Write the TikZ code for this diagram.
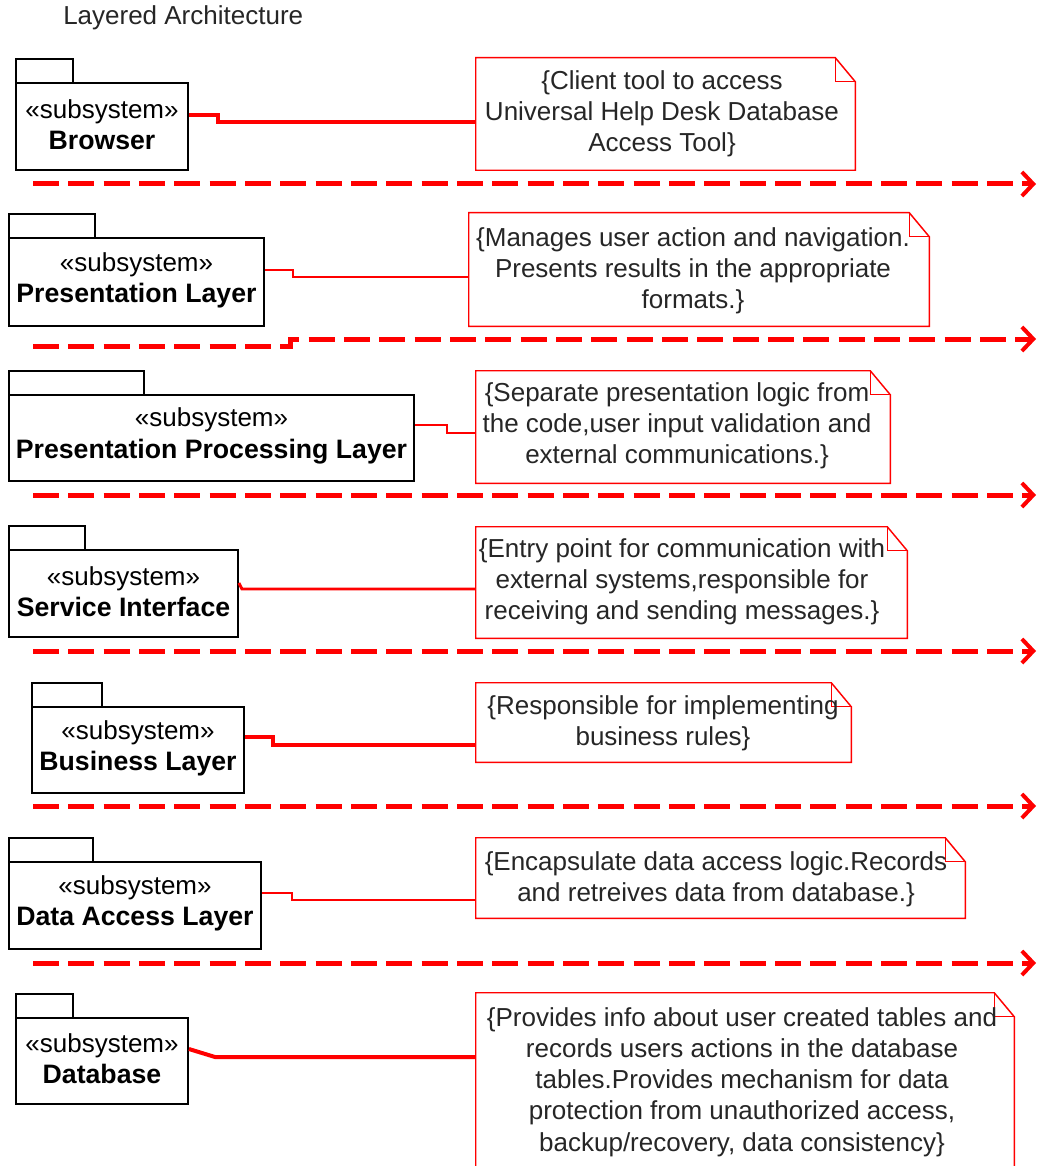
\documentclass[tikz,border=0pt]{standalone}
\usepackage{fontspec}
\setmainfont{Liberation Sans}
\usetikzlibrary{arrows.meta,fit}
\begin{document}
\begin{tikzpicture}[x=0.75pt,y=-0.75pt,
  every node/.style={font=\fontsize{19.5pt}{23.4pt}\selectfont},
  pkg/.style={draw=black,line width=1.4pt,inner sep=0pt,align=center,text=black},
  tabstyle/.style={draw=black,line width=1.4pt},
  notebox/.style={inner sep=0pt,align=center,text=black!85},
  noteline/.style={draw=red,line width=1.1pt},
  conn/.style={draw=red,line width=2.2pt},
  connthick/.style={draw=red,line width=3pt},
  sep/.style={draw=red,line width=3.75pt,dash pattern=on 19.5pt off 7pt,
    -{Straight Barb[length=8.5pt,width=18pt,line width=3pt]}}
]
\clip (0,0) rectangle (1037,1166);
\fill[white] (0,0) rectangle (1037,1166);

\node[anchor=west,inner sep=0pt,text=black!85] (title) at (63,18) {Layered Architecture};

% packages
\newcommand{\pkgnode}[7]{% name, x1,y1,x2,y2, tabx2, label
  \draw[tabstyle] (#2,#3) -- (#2,{#3-24}) -- (#6,{#3-24}) -- (#6,#3);
  \node[pkg,fit={(#2,#3) (#4,#5)}] (#1) {};
  \node[align=center,inner sep=0pt] (#1t) at ([yshift=1.5pt]#1.center) {«subsystem»\\\textbf{\fontsize{20pt}{23.4pt}\selectfont #7}};
}
\pkgnode{pk1}{16}{83}{188}{170}{73}{Browser}
\pkgnode{pk2}{9}{238}{264}{326}{95}{Presentation Layer}
\pkgnode{pk3}{9}{395}{414}{481}{144}{Presentation Processing Layer}
\pkgnode{pk4}{9}{550}{238}{637}{85}{Service Interface}
\pkgnode{pk5}{32}{707}{244}{793}{102}{Business Layer}
\pkgnode{pk6}{9}{862}{261}{949}{93}{Data Access Layer}
\pkgnode{pk7}{16}{1018}{188}{1104}{73}{Database}

% notes
\newcommand{\notenode}[5]{% name, x1,y1,x2,y2
  \node[notebox,fit={(#2,#3) (#4,#5)}] (#1) {};
  \draw[noteline] (#1.north west) -- ([xshift=-15pt]#1.north east) -- ([yshift=-18pt]#1.north east) -- (#1.south east) -- (#1.south west) -- cycle;
  \draw[noteline] ([xshift=-15pt]#1.north east) -- ([xshift=-15pt,yshift=-18pt]#1.north east) -- ([yshift=-18pt]#1.north east);
}
\tikzset{notetext/.style={align=center,inner sep=0pt,text=black!85}}
\notenode{nt1}{476}{58}{855}{170}
\node[notetext] (nt1t) at (662,114) {\{Client tool to access\\Universal Help Desk Database\\Access Tool\}};
\notenode{nt2}{469}{213}{929}{326}
\node[notetext] (nt2t) at (693,271) {\{Manages user action and navigation.\\Presents results in the appropriate\\formats.\}};
\notenode{nt3}{476}{371}{890}{483}
\node[notetext] (nt3t) at (677,426) {\{Separate presentation logic from\\the code,user input validation and\\external communications.\}};
\notenode{nt4}{476}{527}{907}{638}
\node[notetext] (nt4t) at (682,582) {\{Entry point for communication with\\external systems,responsible for\\receiving and sending messages.\}};
\notenode{nt5}{476}{683}{851}{762}
\node[notetext] (nt5t) at (663,723) {\{Responsible for implementing\\business rules\}};
\notenode{nt6}{476}{838}{965}{918}
\node[notetext] (nt6t) at (716,879) {\{Encapsulate data access logic.Records\\and retreives data from database.\}};
\notenode{nt7}{476}{993}{1014}{1200}
\node[notetext] (nt7t) at (742,1082) {\{Provides info about user created tables and\\records users actions in the database\\tables.Provides mechanism for data\\protection from unauthorized access,\\backup/recovery, data consistency\}};

% connectors
\draw[connthick] (pk1.east |- 0,115) -- (218,115) -- (218,122) -- (nt1.west |- 0,122);
\draw[conn] (pk2.east |- 0,270) -- (293,270) -- (293,277) -- (nt2.west |- 0,277);
\draw[conn] (pk3.east |- 0,425) -- (447,425) -- (447,433) -- (nt3.west |- 0,433);
\draw[conn] (pk4.east |- 0,583) -- (242,589) -- (nt4.west |- 0,589);
\draw[connthick] (pk5.east |- 0,737) -- (273,737) -- (273,745) -- (nt5.west |- 0,745);
\draw[conn] (pk6.east |- 0,893) -- (292,893) -- (292,900) -- (nt6.west |- 0,900);
\draw[connthick] (pk7.east |- 0,1049) -- (215,1057) -- (nt7.west |- 0,1057);

% layer separators
\coordinate (s1a) at (33,184);  \coordinate (s1b) at (1036,184);
\coordinate (s2a) at (33,346);  \coordinate (s2b) at (1036,339);
\coordinate (s3a) at (33,495);  \coordinate (s3b) at (1036,495);
\coordinate (s4a) at (33,651);  \coordinate (s4b) at (1036,651);
\coordinate (s5a) at (33,806);  \coordinate (s5b) at (1036,806);
\coordinate (s6a) at (33,963);  \coordinate (s6b) at (1036,963);
\draw[sep] (s1a) -- (s1b);
\draw[sep] (s2a) -- (290,346) -- (290,339) -- (s2b);
\draw[sep] (s3a) -- (s3b);
\draw[sep] (s4a) -- (s4b);
\draw[sep] (s5a) -- (s5b);
\draw[sep] (s6a) -- (s6b);
\end{tikzpicture}
\end{document}
